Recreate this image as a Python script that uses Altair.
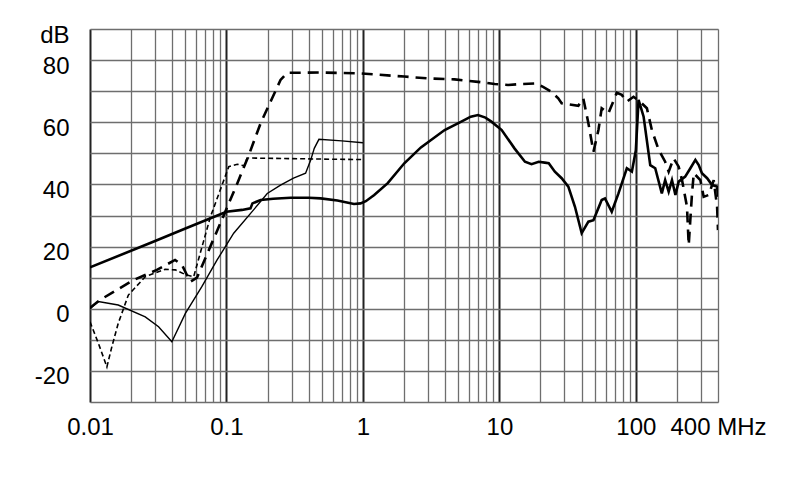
import altair as alt
import pandas as pd

# Thick solid curve
s1_f = [0.01, 0.03, 0.05, 0.1, 0.13, 0.15, 0.155, 0.178, 0.22, 0.295, 0.4, 0.49, 0.65, 0.86, 0.96,
        1.05, 1.21, 1.52, 2.01, 2.66, 3.97, 5.26, 6.17, 6.97, 7.9, 8.74, 10.4, 12.9, 15.4, 17.2,
        19.4, 21.5, 23.0, 25.5, 28.6, 32.0, 35.8, 40.1, 44.9, 48.9, 56.2, 59.4, 66.6, 74.6, 85.9,
        93.5, 100, 104.7, 107.6, 114, 127.5, 138.7, 155, 164, 174, 184, 195, 206, 230, 251, 273,
        289, 305, 333, 362, 394, 400]
s1_db = [13.3, 21.8, 25.8, 31.2, 31.8, 32.3, 33.9, 35.0, 35.4, 35.7, 35.7, 35.5, 34.8, 33.7, 33.9,
         34.6, 36.6, 40.4, 46.8, 51.9, 57.5, 60.2, 61.8, 62.3, 61.5, 60.2, 57.5, 51.6, 47.3, 46.5,
         47.3, 47.0, 46.8, 44.1, 42.0, 39.3, 32.8, 24.3, 28.0, 28.5, 35.0, 35.5, 31.2, 37.1, 45.2,
         44.1, 51.0, 67.2, 65.5, 61.8, 46.2, 45.2, 37.1, 41.4, 37.7, 41.4, 36.6, 40.9, 42.5, 45.2, 47.9,
         46.2, 43.6, 42.0, 39.8, 39.3, 36.0]

# Thick dashed curve
s2_f = [0.01, 0.0118, 0.0208, 0.0309, 0.042, 0.0472, 0.0543, 0.0608, 0.0902, 0.12, 0.146, 0.178,
        0.249, 0.278, 0.5, 0.966, 2.01, 2.99, 4.69, 6.97, 9.24, 11.6, 14.5, 18.2, 20.9, 24.1, 27.0,
        28.6, 37.9, 41.2, 44.9, 48.9, 53.2, 56.2, 63, 72.5, 78.9, 85.9, 96.1, 107.6, 120.5, 131, 147,
        164, 174, 189, 206, 218, 237, 244, 258, 266, 297, 314, 342, 372, 394, 400]
s2_db = [0.3, 2.8, 9.2, 12.5, 15.7, 14.1, 8.7, 10.0, 27.5, 40.3, 49.5, 59.7,
         73.6, 75.9, 76.0, 75.7, 74.7, 74.1, 73.8, 73.0, 72.3, 72.0, 72.3, 72.5, 71.4, 69.8, 67.7,
         66.1, 65.3, 67.7, 59.7, 50.5, 57.5, 64.5, 62.9, 69.5, 68.8, 66.6, 68.2, 66.6, 64.5, 57.5, 51.1,
         47.3, 44.1, 48.4, 45.7, 41.4, 32.8, 20.5, 37.1, 43.6, 41.4, 36.0, 36.6, 41.4, 32.8, 25.3]

# Thin dashed curve
s3_f = [0.01, 0.0115, 0.0133, 0.0145, 0.0161, 0.0191, 0.0254, 0.0356, 0.0422, 0.05, 0.0575,
        0.0763, 0.104, 0.12, 0.135, 0.142, 0.3, 0.6, 1.0]
s3_db = [-4.2, -11.0, -18.7, -12.0, -4.7, 4.4, 10.3, 12.7, 12.5, 11.0, 10.3,
         29.6, 45.7, 46.5, 46.0, 48.5, 48.3, 48.1, 48.0]

# Thin solid curve
s4_f = [0.01, 0.0115, 0.0161, 0.0254, 0.0318, 0.0398, 0.05, 0.066, 0.0854, 0.113, 0.158, 0.199,
        0.249, 0.31, 0.38, 0.415, 0.44, 0.476, 0.7, 1.0]
s4_db = [0.0, 2.3, 1.2, -2.6, -5.8, -10.6, -1.5, 7.1, 15.7, 24.3, 31.8, 37.1,
         39.8, 42.0, 43.6, 47.9, 51.6, 54.5, 54.0, 53.4]

series = [("s1", s1_f, s1_db), ("s2", s2_f, s2_db), ("s3", s3_f, s3_db), ("s4", s4_f, s4_db)]
rows = []
for name, fs, ds in series:
    for f, d in zip(fs, ds):
        rows.append({"s": name, "f": f, "db": d})
df = pd.DataFrame(rows)

x_grid = []
for d in [0.01, 0.1, 1, 10]:
    for m in range(1, 10):
        x_grid.append(round(m * d, 6))
x_grid += [100, 200, 300, 400]
y_grid = list(range(-30, 91, 10))

dark_test = "datum.value == 0.01 || datum.value == 0.1 || datum.value == 1 || datum.value == 10 || datum.value == 100"

x_enc = alt.X("f:Q", scale=alt.Scale(type="log", domain=[0.01, 400], nice=False),
              axis=alt.Axis(values=x_grid, title=None, ticks=False, tickSize=0,
                            domain=False, labelFlush=False, labelOverlap=False,
                            labelPadding=13, labelFont="Liberation Sans", labelFontSize=24,
                            labelColor="black",
                            labelExpr="datum.value == 400 ? '400 MHz' : (indexof([0.01, 0.1, 1, 10, 100], datum.value) >= 0 ? '' + datum.value : '')",
                            gridColor={"condition": {"test": dark_test, "value": "#222222"}, "value": "#6e6e6e"},
                            gridWidth={"condition": {"test": dark_test, "value": 2}, "value": 1.3},
                            gridOpacity=1))
y_enc = alt.Y("db:Q", scale=alt.Scale(domain=[-30, 90], nice=False),
              axis=alt.Axis(values=y_grid, title=None, ticks=False, tickSize=0, domain=False,
                            labelPadding=21, labelOffset=6, labelFont="Liberation Sans",
                            labelFontSize=24, labelColor="black", labelOverlap=False,
                            labelExpr="datum.value == 90 ? 'dB' : ((datum.value % 20 == 0 && datum.value > -30) ? '' + datum.value : '')",
                            gridColor="#6e6e6e", gridWidth=1.3, gridOpacity=1))

base = alt.Chart(df).encode(x=x_enc, y=y_enc)

thick_solid = base.transform_filter(alt.datum.s == "s1").mark_line(
    color="black", strokeWidth=2.6, clip=True)
thick_dash = base.transform_filter(alt.datum.s == "s2").mark_line(
    color="black", strokeWidth=2.6, strokeDash=[11, 7], clip=True)
thin_dash = base.transform_filter(alt.datum.s == "s3").mark_line(
    color="black", strokeWidth=1.6, strokeDash=[5, 3], clip=True)
thin_solid = base.transform_filter(alt.datum.s == "s4").mark_line(
    color="black", strokeWidth=1.4, clip=True)

chart = alt.layer(thick_solid, thick_dash, thin_dash, thin_solid).properties(
    width=628, height=373, autosize="none",
    padding={"left": 82, "top": 21, "right": 60, "bottom": 60},
).configure_view(stroke="#6e6e6e", strokeWidth=1.3).configure(background="white")

chart.save("out.html", embed_options={"renderer": "svg", "actions": False})
